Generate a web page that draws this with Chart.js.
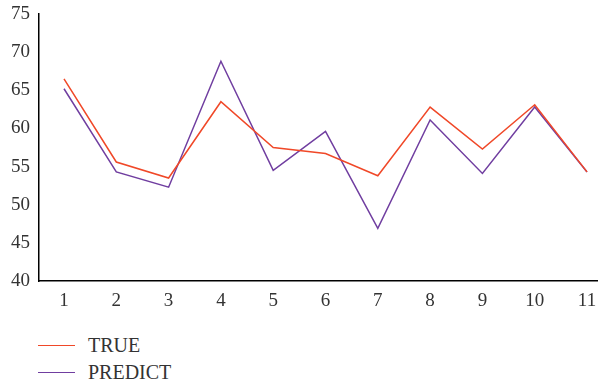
<!DOCTYPE html>
<html><head><meta charset="utf-8">
<script src="https://cdn.jsdelivr.net/npm/chart.js@4/dist/chart.umd.min.js"></script>
<style>
html,body{margin:0;padding:0;background:#fff;overflow:hidden;}
#wrap{position:relative;width:598px;height:315px;}
#legend{font-family:"Liberation Serif","DejaVu Serif",serif;font-size:20px;color:#333;margin-top:17px;}
.item{display:flex;align-items:center;height:27px;}
.sw{display:inline-block;width:37px;height:0;border-top:1.5px solid;margin-left:38px;margin-right:13px;}
</style></head>
<body>
<div id="wrap"><canvas id="c"></canvas></div>
<div id="legend"></div>
<script>
const categories = [1,2,3,4,5,6,7,8,9,10,11];
const trueValues = [66.5,55.6,53.5,63.5,57.5,56.7,53.8,62.8,57.3,63.1,54.3];
const predictValues = [65.2,54.3,52.3,68.8,54.5,59.6,46.9,61.1,54.1,62.8,54.3];
const yTicks = [40,45,50,55,60,65,70,75];
const seriesNames = ['TRUE','PREDICT'];
const colors = ['rgb(240,72,40)','rgb(112,62,160)'];

const font = {family:'"Liberation Serif","DejaVu Serif",serif', size:19};
const datasets = [trueValues, predictValues].map((vals,i)=>({
  label: seriesNames[i],
  data: vals.map((v,j)=>({x:categories[j], y:v})),
  borderColor: colors[i],
  backgroundColor: colors[i],
  borderWidth: 1.5,
  pointRadius: 0,
  tension: 0,
  fill: false
}));

new Chart(document.getElementById('c'), {
  type:'line',
  data:{datasets},
  options:{
    responsive:true, maintainAspectRatio:false, animation:false,
    layout:{padding:{top:14,right:0,left:0,bottom:0}},
    plugins:{legend:{display:false}, tooltip:{enabled:false}},
    scales:{
      x:{type:'linear', min:0.522, max:11.21,
        afterBuildTicks:(s)=>{s.ticks = categories.map(v=>({value:v}));},
        afterFit:(s)=>{s.height=34; s.paddingRight=0; s.paddingLeft=0;},
        grid:{display:false, drawTicks:false},
        border:{display:true,color:'#000',width:1.5},
        ticks:{font, color:'#333', padding:9, maxRotation:0, autoSkip:false}
      },
      y:{min:40,max:75,
        afterBuildTicks:(s)=>{s.ticks = yTicks.map(v=>({value:v}));},
        afterFit:(s)=>{s.width=39; s.paddingTop=0; s.paddingBottom=0;},
        grid:{display:false, drawTicks:false},
        border:{display:true,color:'#000',width:1.5},
        ticks:{font, color:'#333', padding:9}
      }
    }
  }
});

const lg = document.getElementById('legend');
seriesNames.forEach((n,i)=>{
  const d=document.createElement('div'); d.className='item';
  const s=document.createElement('span'); s.className='sw'; s.style.borderColor=colors[i];
  d.appendChild(s); d.appendChild(document.createTextNode(n)); lg.appendChild(d);
});
</script>
</body></html>
